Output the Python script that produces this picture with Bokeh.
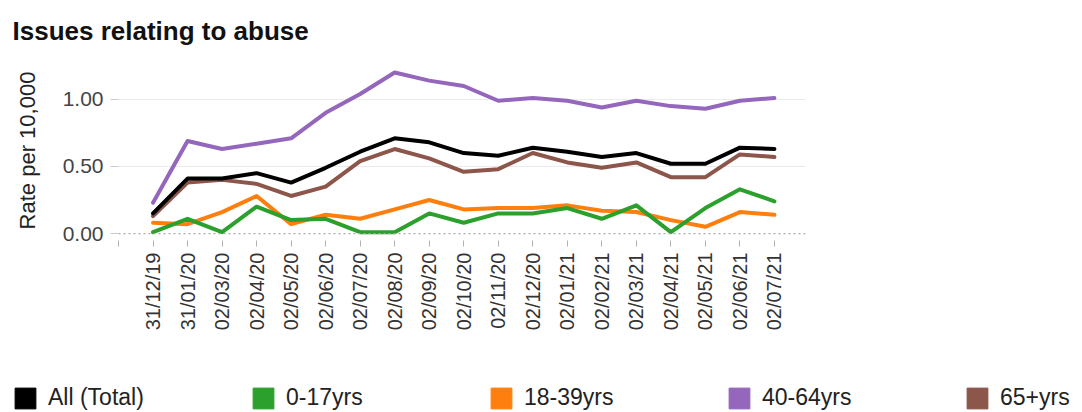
import math
from bokeh.plotting import figure
from bokeh.layouts import column
from bokeh.models import (FixedTicker, Span, Legend, LegendItem, NumeralTickFormatter, Range1d)
from bokeh.embed import file_html
from bokeh.resources import INLINE

dates = ["31/12/19", "31/01/20", "02/03/20", "02/04/20", "02/05/20", "02/06/20", "02/07/20",
         "02/08/20", "02/09/20", "02/10/20", "02/11/20", "02/12/20", "02/01/21", "02/02/21",
         "02/03/21", "02/04/21", "02/05/21", "02/06/21", "02/07/21"]

all_total = [0.15, 0.41, 0.41, 0.45, 0.38, 0.49, 0.61, 0.71, 0.68, 0.60, 0.58, 0.64, 0.61, 0.57, 0.60, 0.52, 0.52, 0.64, 0.63]
age_0_17 = [0.01, 0.11, 0.01, 0.20, 0.10, 0.11, 0.01, 0.01, 0.15, 0.08, 0.15, 0.15, 0.19, 0.11, 0.21, 0.01, 0.19, 0.33, 0.24]
age_18_39 = [0.08, 0.07, 0.16, 0.28, 0.07, 0.14, 0.11, 0.18, 0.25, 0.18, 0.19, 0.19, 0.21, 0.17, 0.16, 0.10, 0.05, 0.16, 0.14]
age_40_64 = [0.23, 0.69, 0.63, 0.67, 0.71, 0.90, 1.04, 1.20, 1.14, 1.10, 0.99, 1.01, 0.99, 0.94, 0.99, 0.95, 0.93, 0.99, 1.01]
age_65 = [0.13, 0.38, 0.40, 0.37, 0.28, 0.35, 0.54, 0.63, 0.56, 0.46, 0.48, 0.60, 0.53, 0.49, 0.53, 0.42, 0.42, 0.59, 0.57]

series_names = ["All (Total)", "0-17yrs", "18-39yrs", "40-64yrs", "65+yrs"]
series_values = [all_total, age_0_17, age_18_39, age_40_64, age_65]
series_colors = ["#000000", "#2ca02c", "#ff7f0e", "#9467bd", "#8c564b"]

y_ticks = [0.0, 0.5, 1.0]

FONT = "Liberation Sans"
xs = list(range(len(dates)))

p = figure(width=1082, height=378, output_backend="svg", toolbar_location=None,
           x_range=Range1d(-1.0, 18.9), y_range=Range1d(-0.052, 1.29),
           min_border_left=118, min_border_right=277, min_border_top=60, min_border_bottom=138,
           title="Issues relating to abuse")
p.frame_align = False
p.outline_line_color = None
p.background_fill_color = "white"

p.title.text_font = FONT
p.title.text_font_size = "26px"
p.title.text_font_style = "bold"
p.title.text_color = "#111111"
p.title.align = "left"
p.title.vertical_align = "top"
p.title.offset = -106
p.title.standoff = 26

# x axis
tick_pos = [-1] + xs
p.xaxis.ticker = FixedTicker(ticks=tick_pos)
overrides = {-1: ""}
for i, d in enumerate(dates):
    overrides[i] = d
p.xaxis.major_label_overrides = overrides
p.xaxis.major_label_orientation = math.pi / 2
p.xaxis.major_label_text_font = FONT
p.xaxis.major_label_text_font_size = "20px"
p.xaxis.major_label_text_color = "#333333"
p.xaxis.axis_line_color = None
p.xaxis.major_tick_line_color = "#b0b0b0"
p.xaxis.major_tick_in = 0
p.xaxis.major_tick_out = 6
p.xaxis.minor_tick_line_color = None
p.xaxis.major_label_standoff = 6
p.xgrid.grid_line_color = None

# y axis
p.yaxis.ticker = FixedTicker(ticks=y_ticks)
p.yaxis.formatter = NumeralTickFormatter(format="0.00")
p.yaxis.axis_label = "Rate per 10,000"
p.yaxis.axis_label_text_font = FONT
p.yaxis.axis_label_text_font_size = "22px"
p.yaxis.axis_label_text_font_style = "normal"
p.yaxis.axis_label_text_color = "#222222"
p.yaxis.axis_label_standoff = 20
p.yaxis.major_label_text_font = FONT
p.yaxis.major_label_text_font_size = "21px"
p.yaxis.major_label_text_color = "#444444"
p.yaxis.axis_line_color = None
p.yaxis.major_tick_line_color = "#cccccc"
p.yaxis.major_tick_in = 0
p.yaxis.major_tick_out = 8
p.yaxis.minor_tick_line_color = None
p.yaxis.major_label_standoff = 7
p.ygrid.ticker = FixedTicker(ticks=[t for t in y_ticks if t != 0])
p.ygrid.grid_line_color = "#ebebeb"
p.ygrid.grid_line_width = 1

zero = Span(location=0, dimension="width", line_color="#aaaaaa", line_dash="2 3", line_width=1.2)
p.add_layout(zero)

draw_order = [2, 1, 3, 4, 0]
for k in draw_order:
    p.line(xs, series_values[k], line_color=series_colors[k], line_width=4,
           line_cap="round", line_join="round")

# legend strip (separate figure below the chart; its bars lie outside its view)
p2 = figure(width=1082, height=34, output_backend="svg", toolbar_location=None,
            x_axis_location=None, y_axis_location=None,
            x_range=Range1d(-1.0, 18.9), y_range=Range1d(100, 101),
            min_border_left=0, min_border_right=0, min_border_top=0, min_border_bottom=0)
p2.frame_align = False
p2.outline_line_color = None
p2.grid.grid_line_color = None
leg_renderers = []
for k in range(len(series_names)):
    r = p2.vbar(x=xs, top=series_values[k], bottom=0, width=0.5,
                fill_color=series_colors[k], line_color=series_colors[k])
    leg_renderers.append(r)

items = [LegendItem(label=series_names[k], renderers=[leg_renderers[k]]) for k in range(len(series_names))]
legend = Legend(items=items, orientation="horizontal", location=(12, 1),
                glyph_width=26, glyph_height=26, label_standoff=10, label_width=190, spacing=12,
                padding=0, margin=0, border_line_color=None, background_fill_alpha=0,
                label_text_font=FONT, label_text_font_size="23px", label_text_color="#222222")
p2.add_layout(legend, "center")

layout = column(p, p2, spacing=0)
open("out.html", "w").write(file_html(layout, INLINE))
